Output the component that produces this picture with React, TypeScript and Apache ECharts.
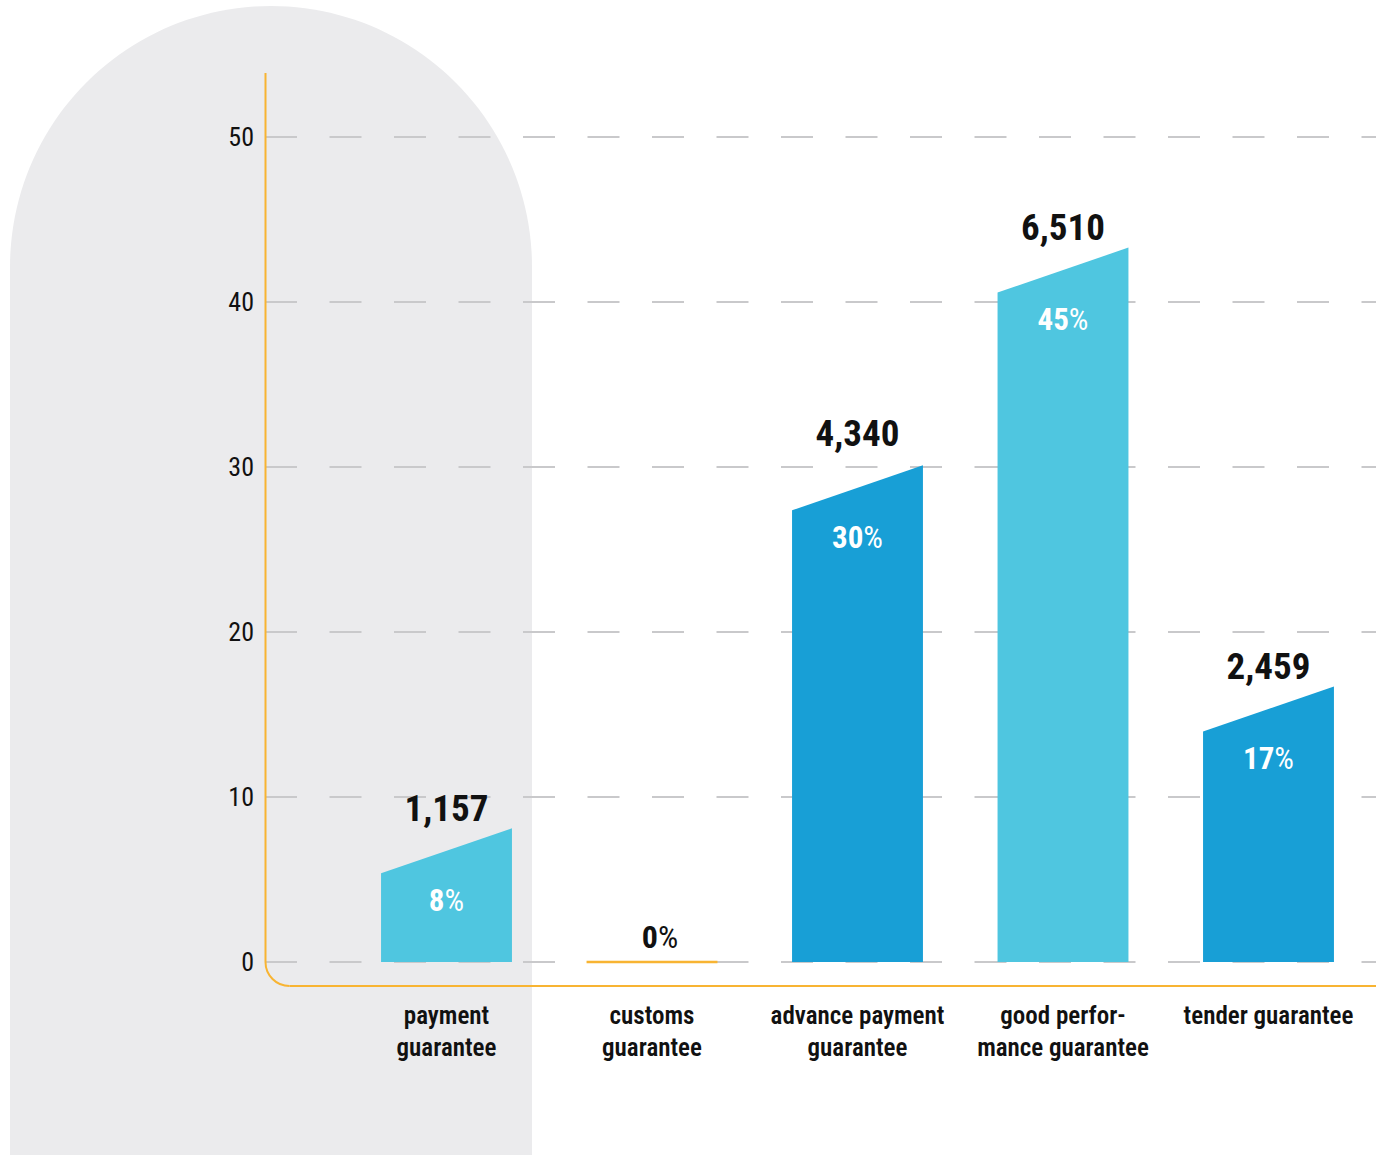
import React, { useEffect, useRef } from "react";
import * as echarts from "echarts";

// ---- data ----
const CATEGORIES = [
  "payment\nguarantee",
  "customs\nguarantee",
  "advance payment\nguarantee",
  "good perfor-\nmance guarantee",
  "tender guarantee",
];
// bar height (right-hand top corner) in axis units
const SHARE_VALUES = [8.1, 0, 30.1, 43.3, 16.7];
const SHARE_TEXT = ["8", "0", "30", "45", "17"];
const COUNT_TEXT = ["1,157", "", "4,340", "6,510", "2,459"];
const Y_MIN = 0;
const Y_MAX = 50;
const Y_STEP = 10;

// ---- styles ----
const FONT =
  '"Noto Sans Condensed", "Noto Sans SemiCondensed", "Roboto Condensed", "Liberation Sans Narrow", "Arial Narrow", "DejaVu Sans Condensed", sans-serif';
const LIGHT = "#4FC6E0";
const DARK = "#189FD6";
const ORANGE = "#F8B432";
const BAR_COLORS = [LIGHT, ORANGE, DARK, LIGHT, DARK];
const COUNT_NUDGE = [0, 0, -12, 0, 0];
const SLANT = 45;

export default function App() {
  const ref = useRef<HTMLDivElement>(null);
  useEffect(() => {
    const chart = echarts.init(ref.current as HTMLDivElement, null, { renderer: "svg" });

    const renderItem = (params: any, api: any) => {
      const i = api.value(0);
      const v = api.value(1);
      const top = api.coord([i, v]);
      const base = api.coord([i, 0]);
      const cx = top[0];
      const bw = api.size([1, 0])[0] * 0.637;
      const half = bw / 2;
      const children: any[] = [];
      if (v > 0) {
        const leftTop = Math.min(base[1], top[1] + SLANT);
        children.push({
          type: "polygon",
          shape: {
            points: [
              [cx - half, base[1]],
              [cx - half, leftTop],
              [cx + half, top[1]],
              [cx + half, base[1]],
            ],
          },
          style: { fill: BAR_COLORS[i] },
        });
        children.push({
          type: "text",
          style: {
            text: `{b|${SHARE_TEXT[i]}}{r|%}`,
            x: cx,
            y: leftTop + 27,
            align: "center",
            verticalAlign: "middle",
            rich: {
              b: { fontFamily: FONT, fontSize: 31, fontWeight: "bold", fill: "#ffffff" },
              r: { fontFamily: FONT, fontSize: 31, fontWeight: "normal", fill: "#ffffff" },
            },
          },
        });
        children.push({
          type: "text",
          style: {
            text: COUNT_TEXT[i],
            x: cx,
            y: top[1] - 20 + COUNT_NUDGE[i],
            align: "center",
            verticalAlign: "middle",
            fontFamily: FONT,
            fontSize: 37,
            fontWeight: "bold",
            fill: "#111111",
          },
        });
      } else {
        children.push({
          type: "line",
          shape: { x1: cx - half, y1: base[1], x2: cx + half, y2: base[1] },
          style: { stroke: BAR_COLORS[i], lineWidth: 2.5 },
        });
        children.push({
          type: "text",
          style: {
            text: `{b|${SHARE_TEXT[i]}}{r|%}`,
            x: cx + 8,
            y: base[1] - 25,
            align: "center",
            verticalAlign: "middle",
            rich: {
              b: { fontFamily: FONT, fontSize: 32, fontWeight: "bold", fill: "#111111" },
              r: { fontFamily: FONT, fontSize: 32, fontWeight: "normal", fill: "#111111" },
            },
          },
        });
      }
      return { type: "group", children };
    };

    const option: any = {
      animation: false,
      backgroundColor: "#ffffff",
      textStyle: { fontFamily: FONT },
      grid: [
        { left: 265, right: 0, top: 137, bottom: 193, outerBoundsMode: "none", containLabel: false },
        { left: 343.75, right: 4.75, top: 137, bottom: 193, outerBoundsMode: "none", containLabel: false },
      ],
      xAxis: [
        { gridIndex: 0, type: "value", show: false, min: 0, max: 1 },
        {
          gridIndex: 1,
          type: "category",
          data: CATEGORIES,
          axisLine: { show: false },
          axisTick: { show: false },
          splitLine: { show: false },
          axisLabel: {
            interval: 0,
            margin: 37,
            fontSize: 25,
            lineHeight: 32,
            color: "#111111",
            fontFamily: FONT,
            fontWeight: 600,
          },
        },
      ],
      yAxis: [
        {
          gridIndex: 0,
          type: "value",
          min: Y_MIN,
          max: Y_MAX,
          interval: Y_STEP,
          axisLine: { show: false },
          axisTick: { show: false },
          axisLabel: { margin: 11, fontSize: 26, color: "#111111", fontFamily: FONT },
          splitLine: { lineStyle: { color: "#C9C9CB", width: 2, type: [32, 32.5] } },
        },
        { gridIndex: 1, type: "value", min: Y_MIN, max: Y_MAX, show: false, splitLine: { show: false } },
      ],
      graphic: [
        { type: "circle", z: -5, silent: true, shape: { cx: 271, cy: 267, r: 261 }, style: { fill: "#EBEBED" } },
        { type: "rect", z: -5, silent: true, shape: { x: 10, y: 266, width: 522, height: 900 }, style: { fill: "#EBEBED" } },
        { type: "line", z: 5, silent: true, shape: { x1: 265.5, y1: 73, x2: 265.5, y2: 962 }, style: { stroke: ORANGE, lineWidth: 2 } },
        {
          type: "arc",
          z: 5,
          silent: true,
          shape: { cx: 289.5, cy: 962, r: 24, startAngle: Math.PI / 2, endAngle: Math.PI, clockwise: true },
          style: { stroke: ORANGE, lineWidth: 2, fill: "none" },
        },
        { type: "line", z: 5, silent: true, shape: { x1: 289.5, y1: 986, x2: 1376, y2: 986 }, style: { stroke: ORANGE, lineWidth: 2 } },
      ],
      series: [
        {
          type: "custom",
          xAxisIndex: 1,
          yAxisIndex: 1,
          encode: { x: 0, y: 1 },
          data: SHARE_VALUES.map((v, i) => [i, v]),
          renderItem,
        },
      ],
    };
    chart.setOption(option);
    return () => chart.dispose();
  }, []);

  return (
    <div
      ref={ref}
      style={{ position: "fixed", left: 0, top: 0, width: 1376, height: 1155 }}
    />
  );
}
